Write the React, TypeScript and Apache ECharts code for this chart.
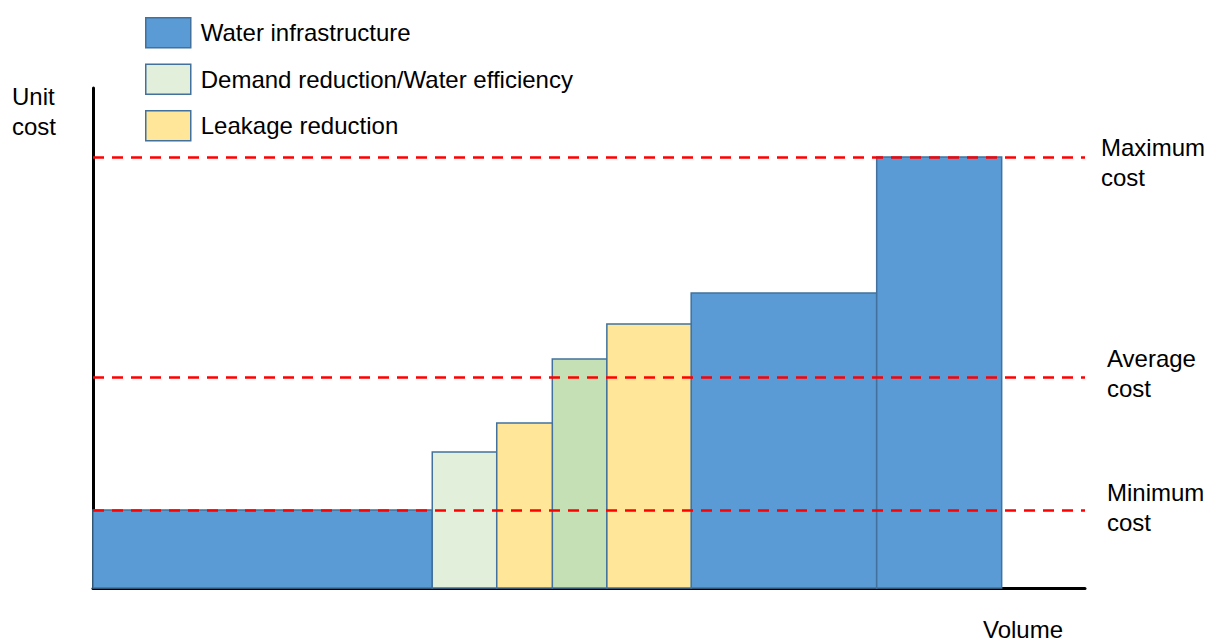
import React, { useEffect, useRef } from "react";
import * as echarts from "echarts";

// ---- data ----
const categories = [
  "Water infrastructure",
  "Demand reduction/Water efficiency",
  "Leakage reduction",
];
// cumulative volume boundaries of each option (x)
const volumeEdges = [0, 34.2, 40.7, 46.3, 51.8, 60.3, 79.0, 91.6];
// unit cost of each option (y)
const unitCosts = [15.6, 27.2, 33.0, 45.8, 52.8, 59.0, 86.2];
// category index of each option
const optionCategory = [0, 1, 2, 1, 2, 0, 0];
const costLevels = [86.2, 42.2, 15.6];
const costLabels = ["Maximum\ncost", "Average\ncost", "Minimum\ncost"];
const xAxisName = "Volume";
const yAxisName = "Unit\ncost";

// ---- styles ----
const categoryColors = ["#5b9bd5", "#e2efda", "#ffe699"];
const barFills = ["#5b9bd5", "#e2efda", "#ffe699", "#c5e0b4", "#ffe699", "#5b9bd5", "#5b9bd5"];
const labelLeft = [1101, 1107, 1107];
const labelShift = [-10, -19, -18];
const FONT = "'Liberation Sans', Arial, sans-serif";

export default function App() {
  const ref = useRef<HTMLDivElement>(null);
  useEffect(() => {
    const chart = echarts.init(ref.current!, null, { renderer: "svg" });
    const series: any[] = categories.map((name, ci) => {
      const data: any[] = [];
      optionCategory.forEach((c, i) => {
        if (c === ci) data.push([volumeEdges[i], volumeEdges[i + 1], unitCosts[i], i]);
      });
      return {
        type: "custom",
        name,
        itemStyle: { color: categoryColors[ci], borderColor: "#41719c", borderWidth: 1.5 },
        data,
        renderItem: (params: any, api: any) => {
          const p0 = api.coord([api.value(0), api.value(2)]);
          const p1 = api.coord([api.value(1), 0]);
          const idx = api.value(3);
          return {
            type: "rect",
            shape: { x: p0[0], y: p0[1], width: p1[0] - p0[0], height: p1[1] - p0[1] },
            style: { fill: barFills[idx], stroke: "#41719c", lineWidth: 1.5 },
          };
        },
        z: 2,
      };
    });
    series.push({
      type: "line",
      data: [],
      z: 5,
      markLine: {
        silent: true,
        symbol: "none",
        z: 5,
        lineStyle: { color: "#ff0000", width: 2.5, type: [11, 8] },
        label: { show: false },
        data: costLevels.map((v) => ({ yAxis: v })),
      },
    });

    const baseGraphic: any[] = [
      {
        type: "text",
        left: 983,
        top: 617,
        style: { text: xAxisName, fontSize: 24, fontFamily: FONT, fill: "#000" },
      },
      {
        type: "text",
        left: 12,
        top: 81,
        style: { text: yAxisName, fontSize: 24, fontFamily: FONT, fill: "#000", lineHeight: 30 },
      },
    ];

    chart.setOption({
      animation: false,
      grid: { left: 93, right: 124, top: 88, bottom: 55 },
      legend: {
        orient: "vertical",
        left: 145,
        top: 17,
        padding: 0,
        itemWidth: 45,
        itemHeight: 30,
        itemGap: 15,
        selectedMode: false,
        textStyle: { fontSize: 24, color: "#000", fontFamily: FONT, padding: [0, 0, 0, 5] },
        data: categories.map((name, i) => ({
          name,
          icon: "rect",
          itemStyle: { color: categoryColors[i], borderColor: "#41719c", borderWidth: 1.5 },
        })),
      },
      xAxis: {
        type: "value",
        min: 0,
        max: 100,
        axisLine: { show: true, onZero: false, lineStyle: { color: "#000", width: 3 } },
        axisTick: { show: false },
        axisLabel: { show: false },
        splitLine: { show: false },
      },
      yAxis: {
        type: "value",
        min: 0,
        max: 100,
        axisLine: { show: true, onZero: false, lineStyle: { color: "#000", width: 3 } },
        axisTick: { show: false },
        axisLabel: { show: false },
        splitLine: { show: false },
      },
      graphic: baseGraphic,
      series,
    });

    const levelTexts = costLevels.map((v, i) => {
      const y = chart.convertToPixel({ yAxisIndex: 0 }, v) as number;
      return {
        type: "text",
        left: labelLeft[i],
        top: y + labelShift[i] - 15,
        style: {
          text: costLabels[i],
          fontSize: 24,
          fontFamily: FONT,
          fill: "#000",
          lineHeight: 30,
        },
      };
    });
    chart.setOption({ graphic: [...baseGraphic, ...levelTexts] });

    return () => chart.dispose();
  }, []);
  return (
    <div
      ref={ref}
      style={{ position: "fixed", left: 0, top: 0, width: 1209, height: 643, background: "#fff" }}
    />
  );
}
